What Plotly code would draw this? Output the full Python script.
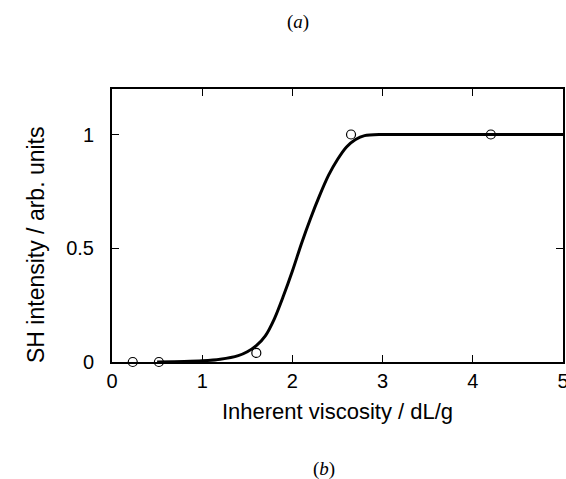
import plotly.graph_objects as go

# measured points
pts_x = [0.23, 0.52, 1.60, 2.65, 4.20]
pts_y = [0.0, 0.0, 0.04, 1.0, 1.0]

# fitted curve
curve_x = [0.5, 0.8, 1.0, 1.2, 1.4, 1.5, 1.6, 1.7, 1.8, 1.9, 2.0, 2.1, 2.2, 2.3, 2.4, 2.5, 2.6, 2.7, 2.8, 3.0, 3.5, 4.0, 5.0]
curve_y = [0.0, 0.002, 0.005, 0.012, 0.028, 0.045, 0.072, 0.115, 0.19, 0.29, 0.40, 0.52, 0.63, 0.73, 0.82, 0.89, 0.945, 0.978, 0.995, 1.0, 1.0, 1.0, 1.0]

x_ticks = [0, 1, 2, 3, 4, 5]
y_ticks = [0, 0.5, 1]
y_ticklabels = ["0", "0.5", "1"]

x_title = "Inherent viscosity / dL/g"
y_title = "SH intensity / arb. units"

W, H = 566, 479
L, R, T, B = 112, 3, 89, 117
pw = W - L - R
ph = H - T - B

fig = go.Figure()
fig.add_trace(go.Scatter(x=curve_x, y=curve_y, mode="lines",
                         line=dict(color="black", width=3, shape="spline", smoothing=0.8),
                         showlegend=False, cliponaxis=False))
fig.add_trace(go.Scatter(x=pts_x, y=pts_y, mode="markers",
                         marker=dict(symbol="circle-open", size=9, color="black", line=dict(width=1.2)),
                         showlegend=False, cliponaxis=False))

sans = "Liberation Sans, Arial, sans-serif"
serif = "Liberation Serif, Times New Roman, serif"
axis_font = dict(family=sans, size=20, color="black")


def px2paper(px, py):
    return (px - L) / pw, ((H - py) - B) / ph


ax_, ay_ = px2paper(298, 22)
bx_, by_ = px2paper(324, 469)
yx_, yy_ = px2paper(36, 245)

fig.update_layout(
    width=W, height=H,
    margin=dict(l=L, r=R, t=T, b=B),
    paper_bgcolor="white", plot_bgcolor="white",
    font=axis_font,
    xaxis=dict(range=[0, 5], tickvals=x_ticks, ticks="inside", ticklen=7, tickwidth=1,
               tickcolor="black", showline=True, linecolor="black", linewidth=2, mirror="ticks",
               showgrid=False, zeroline=False, tickfont=axis_font, ticklabelstandoff=0,
               automargin=False, ticklabeloverflow="allow",
               title=dict(text=x_title, font=dict(family=sans, size=22), standoff=13)),
    yaxis=dict(range=[0, 1.2], tickvals=y_ticks, ticktext=y_ticklabels, ticks="inside", ticklen=7, tickwidth=1,
               tickcolor="black", showline=True, linecolor="black", linewidth=2, mirror="ticks",
               showgrid=False, zeroline=False, tickfont=axis_font, ticklabelstandoff=12,
               automargin=False, ticklabeloverflow="allow"),
    annotations=[
        dict(text=y_title, x=yx_, y=yy_, xref="paper", yref="paper", showarrow=False,
             xanchor="center", yanchor="middle", textangle=-90,
             font=dict(family=sans, size=23, color="black")),
        dict(text="(<i>a</i>)", x=ax_, y=ay_, xref="paper", yref="paper", showarrow=False,
             xanchor="center", yanchor="middle",
             font=dict(family=serif, size=19, color="black")),
        dict(text="(<i>b</i>)", x=bx_, y=by_, xref="paper", yref="paper", showarrow=False,
             xanchor="center", yanchor="middle",
             font=dict(family=serif, size=19, color="black")),
    ],
)
fig.write_html("out.html", config={"displayModeBar": False},
               post_script="document.body.style.margin='0';document.body.style.overflow='hidden';")
